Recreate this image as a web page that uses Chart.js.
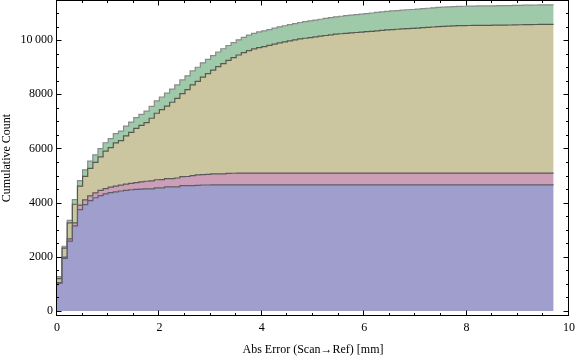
<!DOCTYPE html>
<html>
<head>
<meta charset="utf-8">
<script src="https://cdn.jsdelivr.net/npm/chart.js@4.4.1/dist/chart.umd.min.js"></script>
<style>
  html, body { margin: 0; padding: 0; background: #fff; }
  #chart { display: block; }
</style>
</head>
<body>
<canvas id="chart" width="576" height="357"></canvas>
<script>
const BIN_WIDTH = 0.1;
const BIN_COUNT = 97; // bins from 0 to 9.7

// cumulative counts per layer, one value per bin (bottom layer first)
const blueCounts = [
  1030, 1940, 2580, 3140, 3740, 3930, 4075, 4180, 4260, 4320,
  4370, 4400, 4430, 4455, 4475, 4490, 4500, 4505, 4510, 4545,
  4545, 4580, 4580, 4580, 4630, 4630, 4630, 4640, 4650, 4650,
  4655, 4655, 4655, 4655, 4655, 4655, 4655, 4655, 4655, 4655,
  4655, 4655, 4655, 4655, 4655, 4655, 4655, 4655, 4655, 4655,
  4655, 4655, 4655, 4655, 4655, 4655, 4655, 4655, 4655, 4655,
  4655, 4655, 4655, 4655, 4655, 4655, 4655, 4655, 4655, 4655,
  4655, 4655, 4655, 4655, 4655, 4655, 4655, 4655, 4655, 4655,
  4655, 4655, 4655, 4655, 4655, 4655, 4655, 4655, 4655, 4655,
  4655, 4655, 4655, 4655, 4655, 4655, 4655,
];

const pinkCounts = [
  18, 50, 85, 110, 170, 170, 175, 180, 195, 200,
  200, 210, 215, 225, 235, 250, 265, 285, 295, 300,
  307, 309, 309, 330, 333, 335, 370, 385, 387, 390,
  407, 407, 410, 425, 430, 435, 435, 435, 435, 435,
  435, 435, 435, 435, 435, 435, 435, 435, 435, 435,
  435, 435, 435, 435, 435, 435, 435, 435, 435, 435,
  435, 435, 435, 435, 435, 435, 435, 435, 435, 435,
  435, 435, 435, 435, 435, 435, 435, 435, 435, 435,
  435, 435, 435, 435, 435, 435, 435, 435, 435, 435,
  435, 435, 435, 435, 435, 435, 435,
];

const oliveCounts = [
  147, 330, 585, 690, 700, 867, 1015, 1125, 1235, 1380,
  1460, 1595, 1645, 1781, 1885, 2000, 2085, 2165, 2310, 2455,
  2583, 2676, 2816, 2939, 3062, 3207, 3345, 3453, 3598, 3720,
  3833, 3958, 4070, 4170, 4270, 4360, 4445, 4522, 4588, 4634,
  4670, 4715, 4762, 4808, 4844, 4880, 4916, 4952, 4978, 5004,
  5030, 5055, 5080, 5105, 5130, 5145, 5160, 5175, 5190, 5205,
  5220, 5235, 5252, 5269, 5286, 5298, 5310, 5322, 5334, 5342,
  5355, 5368, 5381, 5394, 5407, 5416, 5425, 5434, 5443, 5447,
  5448, 5450, 5455, 5455, 5456, 5459, 5463, 5465, 5467, 5472,
  5477, 5479, 5483, 5485, 5488, 5490, 5490,
];

const greenCounts = [
  70, 70, 95, 170, 200, 245, 270, 280, 300, 310,
  330, 340, 350, 365, 380, 395, 410, 425, 440, 455,
  465, 475, 485, 495, 505, 510, 515, 520, 525, 530,
  535, 540, 545, 550, 555, 560, 565, 568, 572, 576,
  580, 585, 588, 592, 596, 600, 604, 608, 612, 616,
  620, 625, 630, 635, 640, 645, 650, 655, 660, 665,
  670, 675, 678, 681, 684, 687, 690, 693, 696, 698,
  700, 702, 704, 706, 708, 709, 710, 711, 712, 713,
  714, 715, 715, 715, 716, 716, 717, 717, 718, 718,
  718, 719, 719, 720, 720, 720, 720,
];

const xTicks = [0, 2, 4, 6, 8, 10];
const xTickLabels = ["0", "2", "4", "6", "8", "10"];
const yTicks = [0, 2000, 4000, 6000, 8000, 10000];
const yTickLabels = ["0", "2000", "4000", "6000", "8000", "10\u2009000"];

const binEdges = Array.from({ length: BIN_COUNT + 1 }, (_, i) => +(i * BIN_WIDTH).toFixed(1));

function stepPoints(counts) {
  // last edge repeats the last bin so the final step has its width
  return binEdges.map((x, i) => ({ x, y: counts[Math.min(i, counts.length - 1)] }));
}

function layer(label, counts, fillColor, lineColor, fill) {
  return {
    label,
    data: stepPoints(counts),
    stepped: "before",
    fill,
    backgroundColor: fillColor,
    borderColor: lineColor,
    borderWidth: 1.2,
    pointRadius: 0,
  };
}

const FONT = "'Liberation Serif', 'Times New Roman', serif";

const framePlugin = {
  id: "frame",
  afterDraw(chart) {
    const { ctx, chartArea: a, scales } = chart;
    ctx.save();
    ctx.strokeStyle = "#000";
    ctx.lineWidth = 1;
    const L = Math.round(a.left) - 0.5;
    const R = Math.round(a.right) - 0.5;
    const T = Math.round(a.top) + 0.5;
    const B = Math.round(a.bottom) - 0.5;
    ctx.strokeRect(L, T, R - L, B - T);

    ctx.beginPath();
    for (let v = 0; v <= 10.001; v += 0.5) {
      const x = Math.round(scales.x.getPixelForValue(v)) - 0.5;
      const len = Math.abs(v % 2) < 0.001 ? 5 : 2.5;
      ctx.moveTo(x, B); ctx.lineTo(x, B - len);
      ctx.moveTo(x, T); ctx.lineTo(x, T + len);
    }
    for (let v = 0; v <= scales.y.max; v += 500) {
      const y = Math.round(scales.y.getPixelForValue(v)) + 0.5;
      const len = v % 2000 === 0 ? 5 : 2.5;
      ctx.moveTo(L, y); ctx.lineTo(L + len, y);
      ctx.moveTo(R, y); ctx.lineTo(R - len, y);
    }
    ctx.stroke();
    ctx.restore();
  },
};

new Chart(document.getElementById("chart"), {
  type: "line",
  data: {
    datasets: [
      layer("Layer 1", blueCounts, "#a09ecc", "#5e5e66", "origin"),
      layer("Layer 2", pinkCounts, "#cc9eb8", "#5a5a5a", "-1"),
      layer("Layer 3", oliveCounts, "#cbc6a0", "#55594f", "-1"),
      layer("Layer 4", greenCounts, "#9fcaa9", "#8a8a8a", "-1"),
    ],
  },
  options: {
    responsive: false,
    animation: false,
    devicePixelRatio: 1,
    layout: { padding: { left: 0, right: 7, top: 0, bottom: 0 } },
    plugins: { legend: { display: false }, tooltip: { enabled: false } },
    scales: {
      x: {
        type: "linear",
        min: 0,
        max: 10,
        grid: { display: false, drawTicks: false },
        border: { display: false },
        afterBuildTicks: (axis) => { axis.ticks = xTicks.map((value) => ({ value })); },
        afterFit: (axis) => {
          axis.height = 41;
          axis.paddingLeft = 0;
          axis.paddingRight = 0;
        },
        ticks: {
          padding: 5,
          color: "#000",
          font: { family: FONT, size: 12 },
          maxRotation: 0,
          callback: (value) => xTickLabels[xTicks.indexOf(value)],
        },
        title: {
          display: true,
          text: "Abs Error (Scan\u2192Ref) [mm]",
          color: "#000",
          font: { family: FONT, size: 12 },
          padding: 0,
        },
      },
      y: {
        stacked: true,
        min: -185,
        max: 11480,
        grid: { display: false, drawTicks: false },
        border: { display: false },
        afterBuildTicks: (axis) => { axis.ticks = yTicks.map((value) => ({ value })); },
        afterFit: (axis) => {
          axis.width = 57;
          axis.paddingTop = 0;
          axis.paddingBottom = 0;
        },
        ticks: {
          padding: 4,
          color: "#000",
          font: { family: FONT, size: 12 },
          callback: (value) => yTickLabels[yTicks.indexOf(value)],
        },
        title: {
          display: true,
          text: "Cumulative Count",
          color: "#000",
          font: { family: FONT, size: 12 },
          padding: 0,
        },
      },
    },
  },
  plugins: [framePlugin],
});
</script>
</body>
</html>
